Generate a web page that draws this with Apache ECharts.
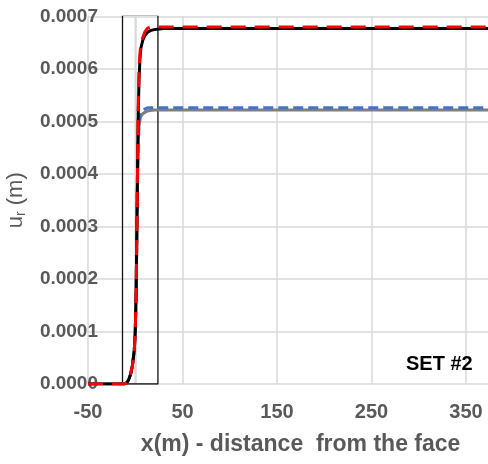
<!DOCTYPE html>
<html>
<head>
<meta charset="utf-8">
<script src="https://cdn.jsdelivr.net/npm/echarts@6/dist/echarts.min.js"></script>
<style>html,body{margin:0;padding:0;background:#fff}#c{width:488px;height:464px}</style>
</head>
<body>
<div id="c"></div>
<script>
// x positions (m) - distance from the face
const xs = [-50, -20, -12, -9, -7, -5, -3, -1, 0, 1, 2, 3, 4, 5, 6, 8, 10, 13, 16, 20, 25, 30, 50, 100, 200, 300, 400];
// radial displacement u_r (m)
const redDashed = [0, 0, 0, 0.000002, 0.000008, 0.000018, 0.000035, 0.000065, 0.0001, 0.00018, 0.00034, 0.00052, 0.0006, 0.00063, 0.00065, 0.00066, 0.00067, 0.000678, 0.00068, 0.00068, 0.00068, 0.00068, 0.00068, 0.00068, 0.00068, 0.00068, 0.00068];
const blackSolid = [0, 0, 0, 0.000002, 0.000008, 0.000018, 0.000035, 0.000065, 0.0001, 0.00018, 0.00034, 0.0005, 0.00058, 0.00062, 0.00064, 0.000655, 0.000663, 0.00067, 0.000673, 0.000675, 0.000676, 0.000677, 0.000677, 0.000677, 0.000677, 0.000677, 0.000677];
const blueDashed = [0, 0, 0, 0.000002, 0.000008, 0.000018, 0.000035, 0.000065, 0.0001, 0.00018, 0.00034, 0.00046, 0.0005, 0.000512, 0.000518, 0.000522, 0.000524, 0.000526, 0.000526, 0.000526, 0.000526, 0.000526, 0.000526, 0.000526, 0.000526, 0.000526, 0.000526];
const graySolid = [0, 0, 0, 0.000002, 0.000008, 0.000018, 0.000035, 0.000065, 0.0001, 0.00018, 0.00034, 0.00045, 0.00049, 0.000503, 0.00051, 0.000515, 0.000518, 0.00052, 0.000521, 0.000522, 0.000522, 0.000522, 0.000522, 0.000522, 0.000522, 0.000522, 0.000522];
// highlight box around the face zone
const boxX = [-13.5, -13.5, 24, 24, -13.5];
const boxY = [0, 0.000702, 0.000702, 0, 0];
// face line
const faceX = [0, 0];
const faceY = [0, 0.0007];
const xTicks = {min: -50, max: 400, interval: 100};
const yTicks = {min: 0, max: 0.0007, interval: 0.0001};
const annotation = 'SET #2';

const zip = (a, b) => a.map((v, i) => [v, b[i]]);
const FONT = '"Liberation Sans", Arial, sans-serif';
const LBL = '#595959';
const GRID = '#d9d9d9';

const chart = echarts.init(document.getElementById('c'));
chart.setOption({
  animation: false,
  backgroundColor: '#fff',
  grid: {left: 88, top: 16.5, width: 425.25, height: 367.5, containLabel: false, outerBoundsMode: 'none'},
  xAxis: {
    type: 'value', min: xTicks.min, max: xTicks.max, interval: xTicks.interval,
    name: 'x(m) - distance  from the face', nameLocation: 'middle', nameGap: 49,
    nameTextStyle: {fontFamily: FONT, fontSize: 23, fontWeight: 'bold', color: LBL},
    axisLine: {show: false}, axisTick: {show: false},
    axisLabel: {fontFamily: FONT, fontSize: 20, fontWeight: 'bold', color: LBL, margin: 18},
    splitLine: {show: true, lineStyle: {color: GRID, width: 1.5}}
  },
  yAxis: {
    type: 'value', min: yTicks.min, max: yTicks.max, interval: yTicks.interval,
    name: '{u|u}{r|r}{u| (m)}', nameLocation: 'middle', nameGap: 60,
    nameTextStyle: {rich: {
      u: {fontFamily: FONT, fontSize: 22, color: LBL},
      r: {fontFamily: FONT, fontSize: 14, color: LBL, padding: [10, 0, 0, 0]}
    }},
    axisLine: {show: true, lineStyle: {color: GRID, width: 1.5}}, axisTick: {show: false},
    axisLabel: {fontFamily: FONT, fontSize: 19, fontWeight: 'bold', color: LBL, margin: -10,
      formatter: v => v.toFixed(4)},
    splitLine: {show: true, lineStyle: {color: GRID, width: 1.5}}
  },
  series: [
    {type: 'line', data: zip(faceX, faceY), symbol: 'none', silent: true, z: 1,
      lineStyle: {color: GRID, width: 1.5}},
    {type: 'line', data: zip(boxX, boxY), symbol: 'none', silent: true, z: 2,
      lineStyle: {color: '#111', width: 1.3}},
    {type: 'line', data: zip(xs, graySolid), symbol: 'none', z: 3,
      lineStyle: {color: '#7f7f7f', width: 3}},
    {type: 'line', data: zip(xs, blueDashed), symbol: 'none', z: 4,
      lineStyle: {color: '#4472c4', width: 3, type: [10, 5]}},
    {type: 'line', data: zip(xs, blackSolid), symbol: 'none', z: 5,
      lineStyle: {color: '#000', width: 3}},
    {type: 'line', data: zip(xs, redDashed), symbol: 'none', z: 6,
      lineStyle: {color: '#ff0000', width: 3, type: [15, 9]}}
  ],
  graphic: [{
    type: 'text', left: 406, top: 354, z: 10,
    style: {text: annotation, fontFamily: FONT, fontSize: 20, fontWeight: 'bold', fill: '#000'}
  }]
});
</script>
</body>
</html>
